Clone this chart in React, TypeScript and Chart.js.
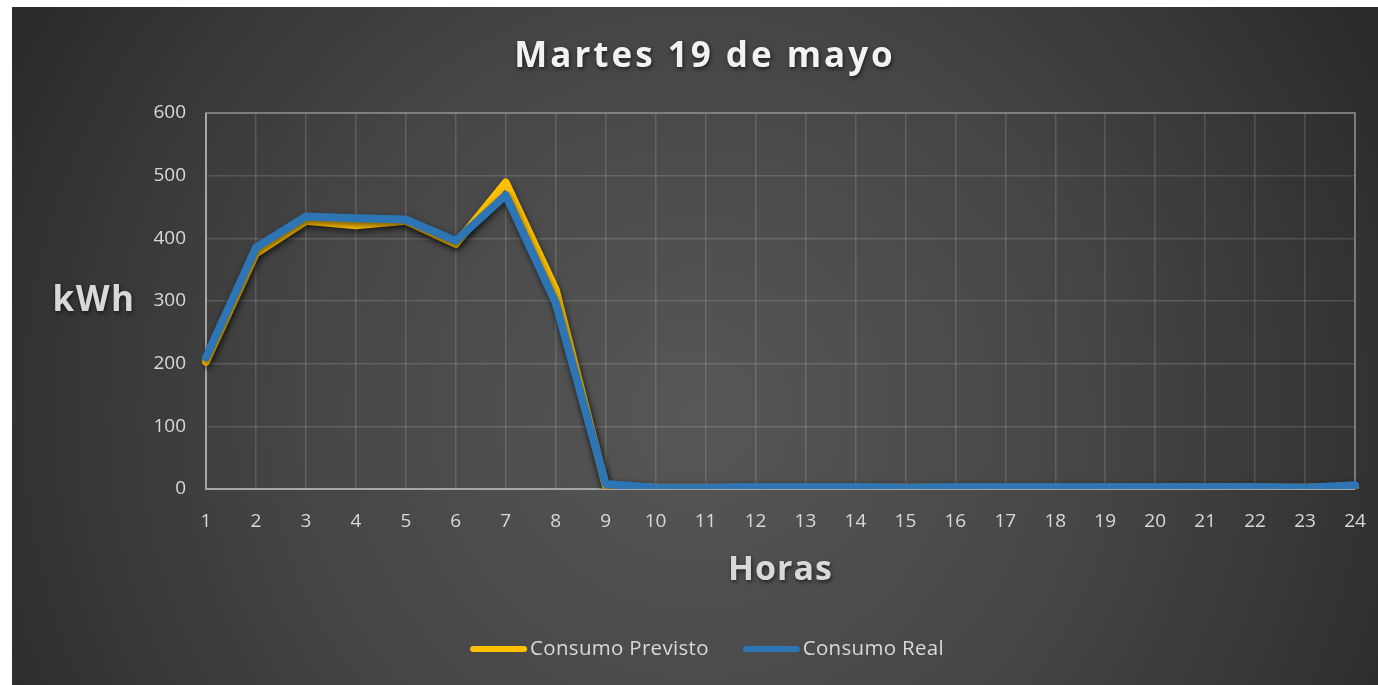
import { useEffect, useRef } from "react";
import { Chart, registerables } from "chart.js";

Chart.register(...registerables);

const horas = ["1", "2", "3", "4", "5", "6", "7", "8", "9", "10", "11", "12", "13", "14", "15", "16", "17", "18", "19", "20", "21", "22", "23", "24"];
const consumoPrevisto = [203, 376, 428, 421, 428, 391, 489, 318, 5, 2, 2, 2, 2, 2, 2, 2, 2, 2, 2, 2, 2, 2, 2, 4];
const consumoReal = [210, 385, 435, 432, 430, 396, 469, 297, 8, 2, 2, 3, 3, 3, 2, 3, 3, 3, 3, 3, 3, 3, 2, 6];
const yMin = 0;
const yMax = 600;
const yStep = 100;

const titulo = "Martes 19 de mayo";
const tituloY = "kWh";
const tituloX = "Horas";
const nombrePrevisto = "Consumo Previsto";
const nombreReal = "Consumo Real";

const AMARILLO = "#FFC000";
const AZUL = "#2E75B6";
const TEXTO = "#d9d9d9";
const FONT = "'Open Sans', 'DejaVu Sans', sans-serif";

export default function App() {
  const ref = useRef<HTMLCanvasElement | null>(null);

  useEffect(() => {
    const canvas = ref.current;
    if (!canvas) return;

    const decor = {
      id: "decor",
      beforeDraw(chart: any) {
        const { ctx, width, height } = chart;
        ctx.save();
        const cx = width * 0.5;
        const cy = height * 0.6;
        const g = ctx.createRadialGradient(cx, cy, 0, cx, cy, width * 0.62);
        g.addColorStop(0, "#575757");
        g.addColorStop(0.5, "#444444");
        g.addColorStop(1, "#262626");
        ctx.fillStyle = g;
        ctx.fillRect(0, 0, width, height);
        ctx.restore();
      },
      beforeDatasetsDraw(chart: any) {
        const { ctx, chartArea: a } = chart;
        ctx.save();
        ctx.strokeStyle = "#8c8c8c";
        ctx.lineWidth = 1.5;
        ctx.strokeRect(a.left, a.top, a.right - a.left, a.bottom - a.top);
        ctx.strokeStyle = "#a6a6a6";
        ctx.lineWidth = 2;
        ctx.beginPath();
        ctx.moveTo(a.left, a.top);
        ctx.lineTo(a.left, a.bottom);
        ctx.lineTo(a.right, a.bottom);
        ctx.stroke();
        ctx.restore();
      },
      beforeDatasetDraw(chart: any) {
        const ctx = chart.ctx;
        ctx.save();
        ctx.shadowColor = "rgba(0,0,0,0.55)";
        ctx.shadowBlur = 6;
        ctx.shadowOffsetX = 1;
        ctx.shadowOffsetY = 3;
      },
      afterDatasetDraw(chart: any) {
        chart.ctx.restore();
      },
      afterDraw(chart: any) {
        const { ctx, width, chartArea: a } = chart;
        ctx.save();
        // title
        ctx.shadowColor = "rgba(0,0,0,0.6)";
        ctx.shadowBlur = 4;
        ctx.shadowOffsetX = 1;
        ctx.shadowOffsetY = 2;
        ctx.fillStyle = "#f2f2f2";
        ctx.font = `bold 35px ${FONT}`;
        (ctx as any).letterSpacing = "3px";
        ctx.textAlign = "center";
        ctx.textBaseline = "middle";
        ctx.fillText(titulo, width / 2 + 10, 50);
        // axis titles
        (ctx as any).letterSpacing = "1.5px";
        ctx.fillStyle = TEXTO;
        ctx.font = `bold 35px ${FONT}`;
        ctx.fillText(tituloY, a.left - 112, (a.top + a.bottom) / 2);
        (ctx as any).letterSpacing = "1px";
        ctx.font = `bold 34px ${FONT}`;
        ctx.fillText(tituloX, (a.left + a.right) / 2, 563);
        (ctx as any).letterSpacing = "0px";
        ctx.shadowColor = "transparent";
        // legend
        ctx.font = `20.5px ${FONT}`;
        (ctx as any).letterSpacing = "0.3px";
        ctx.textAlign = "left";
        const ly = 642;
        const items = [
          { label: nombrePrevisto, color: AMARILLO },
          { label: nombreReal, color: AZUL },
        ];
        const swatch = 57;
        const gapText = 3;
        const gapItem = 34;
        let total = 0;
        items.forEach((it, i) => {
          total += swatch + gapText + ctx.measureText(it.label).width + (i < items.length - 1 ? gapItem : 0);
        });
        let x = width / 2 - total / 2 + 12;
        ctx.lineCap = "round";
        ctx.lineWidth = 6;
        items.forEach((it) => {
          ctx.strokeStyle = it.color;
          ctx.beginPath();
          ctx.moveTo(x + 3, ly);
          ctx.lineTo(x + swatch - 3, ly);
          ctx.stroke();
          x += swatch + gapText;
          ctx.fillStyle = TEXTO;
          ctx.fillText(it.label, x, ly);
          x += ctx.measureText(it.label).width + gapItem;
        });
        ctx.restore();
      },
    };

    const chart = new Chart(canvas, {
      type: "line",
      data: {
        labels: horas,
        datasets: [
          {
            label: nombrePrevisto,
            data: consumoPrevisto,
            order: 2,
            borderColor: AMARILLO,
            backgroundColor: AMARILLO,
            borderWidth: 8,
            pointRadius: 0,
            tension: 0,
            borderJoinStyle: "round",
            borderCapStyle: "round",
          },
          {
            label: nombreReal,
            data: consumoReal,
            order: 1,
            borderColor: AZUL,
            backgroundColor: AZUL,
            borderWidth: 8,
            pointRadius: 0,
            tension: 0,
            borderJoinStyle: "round",
            borderCapStyle: "round",
          },
        ],
      },
      options: {
        responsive: false,
        animation: false,
        devicePixelRatio: 1,
        layout: { padding: { top: 106, right: 23, left: 0, bottom: 0 } },
        plugins: {
          legend: { display: false },
          title: { display: false },
          tooltip: { enabled: false },
        },
        scales: {
          x: {
            offset: false,
            grid: { color: "rgba(255,255,255,0.14)", lineWidth: 1.5, drawTicks: false },
            border: { display: false },
            ticks: { color: TEXTO, font: { family: FONT, size: 19 }, padding: 21, maxRotation: 0, autoSkip: false },
            afterFit(scale: any) {
              scale.height = 196;
              scale.paddingLeft = 0;
              scale.paddingRight = 0;
            },
          },
          y: {
            min: yMin,
            max: yMax,
            grid: { color: "rgba(255,255,255,0.14)", lineWidth: 1.5, drawTicks: false },
            border: { display: false },
            ticks: { stepSize: yStep, color: TEXTO, font: { family: FONT, size: 19 }, padding: 20 },
            afterFit(scale: any) {
              scale.width = 194;
              scale.paddingTop = 0;
              scale.paddingBottom = 0;
            },
          },
        },
      },
      plugins: [decor],
    } as any);

    return () => chart.destroy();
  }, []);

  return (
    <div style={{ position: "absolute", left: 12, top: 7, width: 1366, height: 678 }}>
      <canvas ref={ref} width={1366} height={678} style={{ display: "block", width: 1366, height: 678 }} />
    </div>
  );
}
